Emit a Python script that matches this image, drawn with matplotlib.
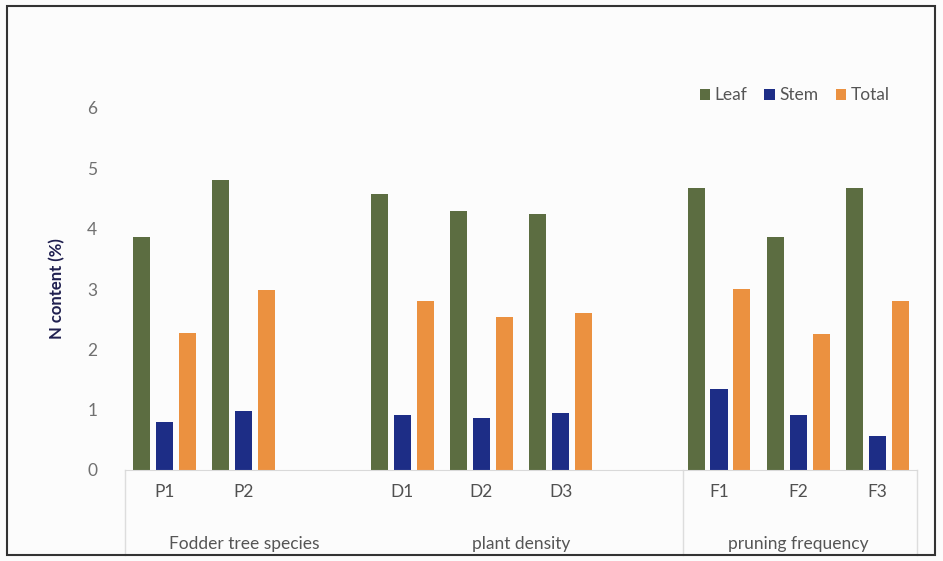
import numpy as np
import matplotlib.pyplot as plt
from matplotlib.patches import Rectangle
from matplotlib.transforms import blended_transform_factory

plt.rcParams["font.family"] = ["Lato", "DejaVu Sans"]

# ── Data ──────────────────────────────────────────────────────────────
categories = ["P1", "P2", "", "D1", "D2", "D3", "", "F1", "F2", "F3"]
groups = ["Fodder tree species", "plant density", "pruning frequency"]
group_centers = [1.0, 4.5, 8.0]
leaf = [3.87, 4.81, np.nan, 4.58, 4.30, 4.25, np.nan, 4.68, 3.87, 4.68]
stem = [0.79, 0.97, np.nan, 0.91, 0.86, 0.94, np.nan, 1.34, 0.91, 0.56]
total = [2.27, 2.98, np.nan, 2.80, 2.54, 2.60, np.nan, 3.00, 2.26, 2.80]
series = [("Leaf", leaf, "#5c6d41"), ("Stem", stem, "#1d2d86"), ("Total", total, "#eb9140")]

# ── Figure ────────────────────────────────────────────────────────────
fig = plt.figure(figsize=(9.43, 5.61), dpi=100)
fig.patch.set_facecolor("#fcfcfc")
ax = fig.add_axes([125 / 943, 1 - 470 / 561, 792 / 943, (470 - 108) / 561])
ax.set_facecolor("#fcfcfc")

x = np.arange(len(categories))
width = 0.215
offset = 0.29
for i, (name, vals, col) in enumerate(series):
    ax.bar(x + (i - 1) * offset, vals, width, color=col, label=name)

ax.set_xlim(-0.5, len(categories) - 0.5)
ax.set_ylim(0, 6)
ax.set_yticks(range(7))
ax.tick_params(axis="y", length=0, labelsize=12.5, labelcolor="#707070", pad=20)
ax.set_xticks(x)
ax.set_xticklabels(categories)
ax.tick_params(axis="x", length=0, labelsize=12.5, labelcolor="#505050", pad=10)
for s in ["top", "right", "left"]:
    ax.spines[s].set_visible(False)
ax.spines["bottom"].set_color("#d9d9d9")

ax.set_ylabel("N content (%)", fontsize=12, fontweight="bold", color="#1f1f4f", labelpad=16)

# Group labels and separators for the two-level axis
tr = blended_transform_factory(ax.transData, ax.transAxes)
for g, c in zip(groups, group_centers):
    ax.text(c, -0.205, g, transform=tr, ha="center", va="center",
            fontsize=12.5, color="#555555")
for sx in [-0.5, 6.55, 9.5]:
    ax.plot([sx, sx], [0, -0.235], transform=tr, color="#dddddd", lw=1, clip_on=False)

leg = ax.legend(loc="upper right", bbox_to_anchor=(0.985, 1.1), ncol=3, frameon=False,
                fontsize=12.5, handlelength=0.6, handleheight=0.6, handletextpad=0.25,
                columnspacing=1.0)
for t in leg.get_texts():
    t.set_color("#555555")

# outer frame
fig.add_artist(Rectangle((7 / 943, 6 / 561), 928 / 943, 549 / 561, transform=fig.transFigure,
                         fill=False, edgecolor="#333333", lw=1.5))

fig.savefig("out.png", dpi=100, facecolor=fig.get_facecolor())
